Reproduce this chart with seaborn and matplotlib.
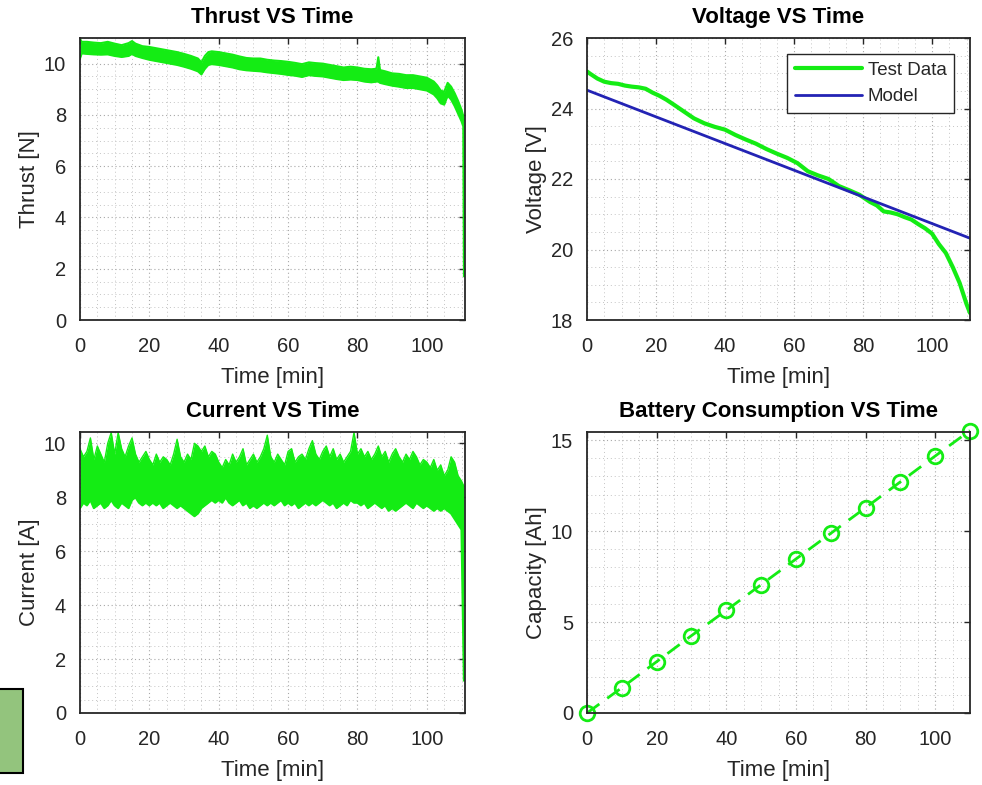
import numpy as np
import matplotlib
matplotlib.use('Agg')
import matplotlib.pyplot as plt
from matplotlib.patches import Rectangle
from matplotlib.ticker import MultipleLocator
import seaborn as sns

GREEN = '#14ec14'
BLUE = '#2323b4'
INK = '#262626'

# Thrust test data, read as upper / lower edge of the noisy band
thrust_t = [0, 0.5, 2, 4, 6, 8, 10, 12, 14, 15, 16, 18, 20, 22, 24, 26, 28, 30, 32, 34,
            35, 36, 37, 38, 40, 42, 44, 46, 48, 50, 52, 54, 56, 58, 60, 62, 64, 66, 68, 70,
            72, 74, 76, 78, 80, 82, 84, 85.5, 86, 86.5, 88, 90, 92, 94, 96, 98, 100, 102,
            103, 104, 105, 106, 107, 108, 109, 110, 110.5, 110.7]
thrust_hi = [10.95, 10.85, 10.85, 10.82, 10.8, 10.85, 10.78, 10.72, 10.8, 10.88, 10.78, 10.68,
             10.65, 10.6, 10.55, 10.5, 10.45, 10.38, 10.3, 10.2, 10.05, 10.3, 10.45, 10.48,
             10.45, 10.4, 10.35, 10.28, 10.22, 10.2, 10.2, 10.15, 10.12, 10.1, 10.07, 10.03,
             9.98, 10.05, 10.02, 10.0, 9.95, 9.9, 9.85, 9.88, 9.85, 9.8, 9.78, 9.8, 10.25,
             9.75, 9.7, 9.62, 9.6, 9.55, 9.55, 9.5, 9.45, 9.3, 9.15, 8.95, 8.9, 9.25, 9.1,
             8.85, 8.55, 8.2, 7.95, 7.8]
thrust_lo = [10.2, 10.4, 10.38, 10.36, 10.35, 10.36, 10.3, 10.26, 10.3, 10.38, 10.3, 10.22,
             10.15, 10.1, 10.05, 10.0, 9.95, 9.88, 9.8, 9.7, 9.58, 9.8, 9.95, 9.98, 9.95,
             9.9, 9.85, 9.78, 9.74, 9.72, 9.7, 9.66, 9.63, 9.6, 9.56, 9.53, 9.48, 9.55, 9.52,
             9.5, 9.45, 9.4, 9.36, 9.38, 9.36, 9.3, 9.27, 9.3, 9.3, 9.25, 9.2, 9.14, 9.1,
             9.05, 9.05, 9.0, 8.95, 8.8, 8.65, 8.45, 8.4, 8.75, 8.6, 8.35, 8.05, 7.75, 7.55, 1.7]

# Voltage test data and linear model
volt_t = [0, 1, 3, 5, 7, 9, 11, 13, 15, 17, 19, 21, 23, 25, 28, 31, 34, 37, 40, 43, 46, 49,
          52, 55, 58, 61, 64, 67, 70, 73, 76, 79, 82, 84, 86, 88, 90, 92, 94, 96, 98, 100,
          102, 104, 106, 108, 110, 111]
volt = [25.05, 24.98, 24.85, 24.76, 24.72, 24.7, 24.65, 24.62, 24.6, 24.56, 24.45, 24.36,
        24.25, 24.12, 23.92, 23.72, 23.58, 23.48, 23.4, 23.25, 23.12, 23.0, 22.85, 22.72,
        22.6, 22.45, 22.22, 22.1, 22.0, 21.8, 21.68, 21.55, 21.35, 21.25, 21.08, 21.05,
        21.0, 20.92, 20.85, 20.72, 20.6, 20.45, 20.15, 19.9, 19.5, 19.05, 18.45, 18.2]
model_t = [0, 111]
model_v = [24.52, 20.32]

# Current test data, upper / lower edge of the noise band
current_t = list(range(0, 111)) + [110.7]
current_hi = [9.8, 9.5, 9.7, 10.2, 9.4, 9.9, 9.6, 9.3, 10.0, 10.4,
              9.6, 10.4, 9.8, 9.5, 9.9, 10.2, 9.6, 9.3, 9.5, 9.7,
              9.4, 9.2, 9.6, 9.3, 9.5, 9.4, 9.2, 9.6, 10.15, 9.5,
              9.3, 9.6, 9.4, 10.0, 9.9, 9.7, 9.9, 9.5, 9.7, 9.6,
              9.3, 9.1, 9.4, 9.2, 9.6, 9.3, 9.5, 9.8, 9.2, 9.4,
              9.6, 9.3, 9.5, 9.8, 10.3, 9.5, 9.3, 9.6, 9.4, 9.2,
              9.7, 9.8, 9.3, 9.5, 9.6, 9.4, 9.8, 10.1, 9.6, 9.4,
              9.7, 9.9, 9.5, 9.8, 9.4, 9.6, 9.3, 9.5, 9.7, 10.4,
              9.6, 9.8, 9.5, 9.7, 9.4, 9.6, 9.9, 9.5, 9.7, 9.3,
              9.6, 9.8, 9.5, 9.3, 9.6, 9.4, 9.7, 9.5, 9.2, 9.4,
              9.3, 9.1, 9.4, 9.0, 9.2, 8.8, 9.0, 9.5, 9.3, 8.8,
              8.6, 8.4]
current_lo = [7.6, 7.8, 7.7, 7.9, 7.6, 7.7, 7.8, 7.6, 7.7, 7.9,
              7.7, 7.6, 7.8, 7.7, 7.6, 7.9, 8.0, 7.8, 7.7, 7.8,
              7.7, 7.8, 7.7, 7.8, 7.6, 7.7, 7.8, 7.7, 7.6, 7.7,
              7.6, 7.5, 7.4, 7.3, 7.4, 7.6, 7.7, 7.8, 7.9, 7.8,
              7.9, 7.8, 8.0, 7.8, 7.7, 7.8, 7.9, 7.7, 7.8, 7.6,
              7.7, 7.6, 7.7, 7.8, 7.7, 7.8, 7.7, 7.8, 7.9, 7.7,
              7.8, 7.7, 7.8, 7.6, 7.7, 7.8, 7.7, 7.8, 7.7, 7.8,
              7.9, 7.8, 7.7, 7.8, 7.6, 7.7, 7.8, 7.7, 7.9, 7.8,
              7.8, 7.7, 7.8, 7.6, 7.7, 7.8, 7.7, 7.6, 7.7, 7.5,
              7.6, 7.5, 7.6, 7.7, 7.8, 7.7, 7.6, 7.8, 7.7, 7.6,
              7.7, 7.6, 7.5, 7.6, 7.5, 7.6, 7.5, 7.4, 7.2, 7.0,
              6.8, 1.2]

# Battery consumption
cap_t = [0, 10, 20, 30, 40, 50, 60, 70, 80, 90, 100, 110]
cap = [0, 1.39, 2.82, 4.25, 5.64, 7.05, 8.46, 9.87, 11.28, 12.7, 14.12, 15.52]

sns.set_theme(style='white')
plt.rcParams['font.family'] = ['Liberation Sans', 'DejaVu Sans']

W, H = 982, 785
fig = plt.figure(figsize=(W / 100, H / 100), dpi=100)


def box(l, t, r, b):
    return [l / W, 1 - b / H, (r - l) / W, (b - t) / H]


def style(ax, xlim, ylim, xmaj, ymaj, xmin, ymin, title, xlabel, ylabel):
    ax.set_xlim(xlim)
    ax.set_ylim(ylim)
    ax.xaxis.set_major_locator(MultipleLocator(xmaj))
    ax.yaxis.set_major_locator(MultipleLocator(ymaj))
    ax.xaxis.set_minor_locator(MultipleLocator(xmin))
    ax.yaxis.set_minor_locator(MultipleLocator(ymin))
    ax.grid(which='major', ls=(0, (1, 2.5)), color='#a8a8a8', lw=0.8)
    ax.grid(which='minor', ls=(0, (1, 3)), color='#c4c4c4', lw=0.7)
    ax.set_axisbelow(True)
    ax.tick_params(which='both', direction='in', top=True, right=True)
    ax.tick_params(which='minor', length=0)
    ax.tick_params(which='major', length=4, width=1, labelsize=14.5, colors=INK)
    ax.tick_params(axis='x', pad=12)
    ax.tick_params(axis='y', pad=10)
    for s in ax.spines.values():
        s.set_linewidth(1.3)
        s.set_color(INK)
    ax.set_title(title, fontsize=16, fontweight='bold', color='black', pad=10.5)
    ax.set_xlabel(xlabel, fontsize=16, color=INK, labelpad=8)
    ax.set_ylabel(ylabel, fontsize=16, color=INK, labelpad=3)


# Thrust
ax1 = fig.add_axes(box(80, 38, 465, 320))
ax1.fill_between(thrust_t, thrust_lo, thrust_hi, color=GREEN, lw=0)
sns.lineplot(x=thrust_t, y=thrust_hi, ax=ax1, color=GREEN, lw=1.5, estimator=None, sort=False)
sns.lineplot(x=thrust_t, y=thrust_lo, ax=ax1, color=GREEN, lw=1.5, estimator=None, sort=False)
style(ax1, (0, 111), (0, 11), 20, 2, 5, 0.5, 'Thrust VS Time', 'Time [min]', 'Thrust [N]')

# Voltage
ax2 = fig.add_axes(box(587, 38, 970, 320))
sns.lineplot(x=volt_t, y=volt, ax=ax2, color=GREEN, lw=3, estimator=None, sort=False,
             label='Test Data')
sns.lineplot(x=model_t, y=model_v, ax=ax2, color=BLUE, lw=2, estimator=None, sort=False,
             label='Model')
style(ax2, (0, 111), (18, 26), 20, 2, 5, 0.5, 'Voltage VS Time', 'Time [min]', 'Voltage [V]')
leg = ax2.legend(loc='upper right', fontsize=13.5, handlelength=3.6, handletextpad=0.3,
                 borderpad=0.4, labelspacing=0.5, borderaxespad=0.85, fancybox=False,
                 framealpha=1, edgecolor=INK)
leg.get_frame().set_linewidth(1.0)
for txt in leg.get_texts():
    txt.set_color(INK)

# Current
ax3 = fig.add_axes(box(80, 432, 465, 713))
ax3.fill_between(current_t, current_lo, current_hi, color=GREEN, lw=0)
sns.lineplot(x=current_t, y=current_hi, ax=ax3, color=GREEN, lw=1.0, estimator=None, sort=False)
sns.lineplot(x=current_t, y=current_lo, ax=ax3, color=GREEN, lw=1.6, estimator=None, sort=False)
style(ax3, (0, 111), (0, 10.42), 20, 2, 5, 0.5, 'Current VS Time', 'Time [min]', 'Current [A]')

# Battery consumption
ax4 = fig.add_axes(box(587, 432, 970, 713))
sns.lineplot(x=cap_t, y=cap, ax=ax4, color=GREEN, lw=2, estimator=None, sort=False,
             marker='o', markersize=10.5, markerfacecolor='none', markeredgecolor=GREEN,
             markeredgewidth=2, clip_on=False)
ax4.lines[-1].set_dashes((5.5, 3.5))
style(ax4, (0, 110), (0, 15.44), 20, 5, 5, 1, 'Battery Consumption VS Time', 'Time [min]',
      'Capacity [Ah]')

# partially visible green box at the lower left edge
fig.add_artist(Rectangle((-2 / W, 1 - 773 / H), 25 / W, 84 / H, transform=fig.transFigure,
                         facecolor='#93c47d', edgecolor='black', lw=1.5))

fig.savefig('out.png', dpi=100, facecolor='white')
